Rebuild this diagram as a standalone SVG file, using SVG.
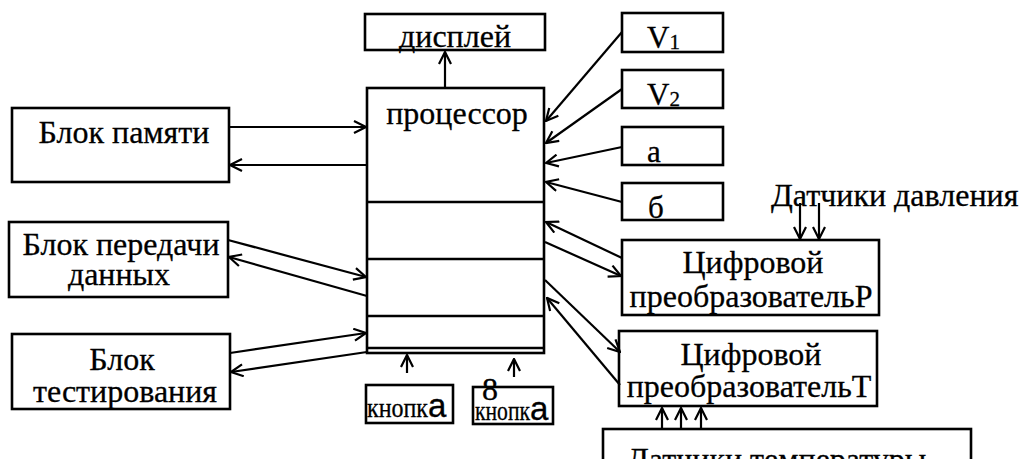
<svg xmlns="http://www.w3.org/2000/svg" width="1022" height="459" viewBox="0 0 1022 459">
<style>
.box{fill:#fff;stroke:#000;stroke-width:2.6}
.ln{fill:none;stroke:#000;stroke-width:2.6}
.ar{fill:none;stroke:#000;stroke-width:2.2;marker-end:url(#ah)}
text{font-family:"Liberation Serif","Times New Roman",serif;font-size:32px;fill:#000;stroke:#000;stroke-width:0.3}
.c{text-anchor:middle}
.sm{font-size:31px}
.sub{font-size:21px}
.sa{font-family:"Liberation Sans",Arial,sans-serif;font-size:33px}
</style>
<defs>
<marker id="ah" viewBox="0 0 14 14" refX="13" refY="7" markerWidth="14" markerHeight="14" markerUnits="userSpaceOnUse" orient="auto">
<path d="M1,1 L13,7 L1,13" fill="none" stroke="#000" stroke-width="2.2"/>
</marker>
</defs>
<rect width="1022" height="459" fill="#fff"/>
<g id="display"><rect class="box" x="365" y="14" width="180" height="36"/><text class="c" x="455" y="47">дисплей</text></g>
<g id="processor">
<rect class="box" x="367" y="88" width="177" height="265"/>
<line class="ln" x1="367" y1="202" x2="544" y2="202"/>
<line class="ln" x1="367" y1="259" x2="544" y2="259"/>
<line class="ln" x1="367" y1="316" x2="544" y2="316"/>
<line class="ln" x1="367" y1="348" x2="544" y2="348" stroke-width="2"/>
<text class="c" x="457" y="124">процессор</text>
</g>
<g id="memory"><rect class="box" x="12" y="108" width="217" height="74"/><text class="c" x="124" y="143">Блок памяти</text></g>
<g id="transfer"><rect class="box" x="9" y="222" width="219" height="75"/><text class="c" x="121" y="255">Блок передачи</text><text class="c" x="119" y="285">данных</text></g>
<g id="testing"><rect class="box" x="12" y="334" width="218" height="75"/><text class="c" x="122" y="370">Блок</text><text class="c" x="125" y="402">тестирования</text></g>
<g id="v1"><rect class="box" x="622" y="13" width="101" height="39"/><text x="647" y="48" class="sm">V<tspan class="sub" dy="1">1</tspan></text></g>
<g id="v2"><rect class="box" x="622" y="70" width="101" height="38"/><text x="647" y="105" class="sm">V<tspan class="sub" dy="1">2</tspan></text></g>
<g id="a"><rect class="box" x="622" y="127" width="101" height="38"/><text x="647" y="162" class="sm">а</text></g>
<g id="b"><rect class="box" x="622" y="183" width="101" height="37"/><text x="648" y="218" class="sm">б</text></g>
<g id="convP"><rect class="box" x="622" y="240" width="257" height="75"/><text class="c" x="753" y="273">Цифровой</text><text class="c" x="751" y="307">преобразовательР</text></g>
<g id="convT"><rect class="box" x="619" y="331" width="258" height="75"/><text class="c" x="751" y="365">Цифровой</text><text class="c" x="749" y="397">преобразовательТ</text></g>
<g id="pressure"><text x="771" y="206">Датчики давления</text></g>
<g id="temperature"><rect class="box" x="603" y="429" width="368" height="70"/><text x="627" y="470">Датчики температуры</text></g>
<g id="button1"><rect class="box" x="366" y="385" width="87" height="38"/><text x="367" y="417"><tspan font-size="27" textLength="61" lengthAdjust="spacingAndGlyphs">кнопк</tspan><tspan class="sa">а</tspan></text></g>
<g id="button2"><rect class="box" x="473" y="387" width="80" height="37"/><text x="482" y="400" font-size="30">8</text><text x="475" y="420"><tspan font-size="27" textLength="55" lengthAdjust="spacingAndGlyphs">кнопк</tspan><tspan class="sa">а</tspan></text></g>
<g id="connectors">
<line class="ar" x1="229" y1="127" x2="366" y2="127"/>
<line class="ar" x1="367" y1="165" x2="230" y2="165"/>
<line class="ar" x1="228" y1="240" x2="366" y2="277"/>
<line class="ar" x1="367" y1="296" x2="229" y2="257"/>
<line class="ar" x1="230" y1="353" x2="366" y2="333"/>
<line class="ar" x1="367" y1="352" x2="231" y2="372"/>
<line class="ar" x1="445" y1="88" x2="445" y2="52"/>
<line class="ar" x1="622" y1="32" x2="546" y2="121"/>
<line class="ar" x1="622" y1="89" x2="546" y2="143"/>
<line class="ar" x1="622" y1="147" x2="546" y2="163"/>
<line class="ar" x1="622" y1="202" x2="546" y2="182"/>
<line class="ar" x1="622" y1="258" x2="546" y2="222"/>
<line class="ar" x1="545" y1="242" x2="621" y2="276"/>
<line class="ar" x1="545" y1="280" x2="620" y2="352"/>
<line class="ar" x1="620" y1="385" x2="547" y2="298"/>
<line class="ar" x1="800" y1="203" x2="800" y2="239"/>
<line class="ar" x1="819" y1="203" x2="819" y2="239"/>
<line class="ar" x1="662" y1="429" x2="662" y2="408"/>
<line class="ar" x1="681" y1="429" x2="681" y2="408"/>
<line class="ar" x1="701" y1="429" x2="701" y2="408"/>
<line class="ar" x1="407" y1="373" x2="407" y2="355"/>
<line class="ar" x1="514" y1="377" x2="514" y2="359"/>
</g>
</svg>
